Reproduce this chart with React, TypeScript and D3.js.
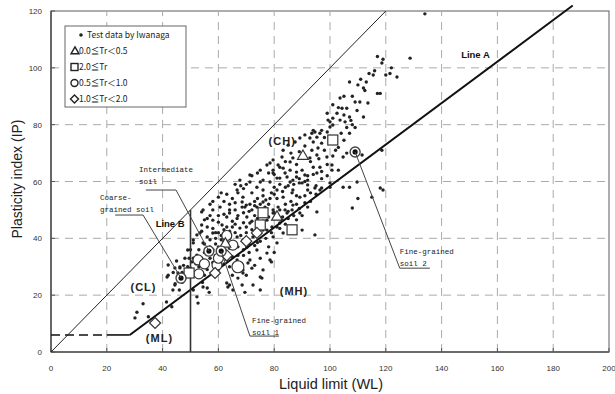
import React from 'react';
import * as d3 from 'd3';

const W = 615;
const H = 394;

const xTicks = [0, 20, 40, 60, 80, 100, 120, 140, 160, 180, 200];
const yTicks = [0, 20, 40, 60, 80, 100, 120];

// [WL, IP] test data by Iwanaga
const testData: [number, number][] = [
  [30.8, 14], [30.1, 12], [33, 17], [34.9, 12.4], [41.4, 17.6], [43.3, 15.9], [42, 27], [44.5, 24], [46, 21.8],
  [47, 24.5], [51, 21.8], [52.7, 17.2], [54.3, 24.5], [56, 22.5], [56.7, 21], [64, 23.6], [65, 27], [68.5, 23.6],
  [69.5, 21], [72.4, 23.6], [75.6, 26], [63.4, 22.9], [68.8, 27.8], [76, 28.9], [79, 31.7], [70.6, 31.3], [75, 21.8],
  [52.3, 19.4], [43.7, 21.8], [44.4, 23.6], [54.5, 22.9], [63, 24.3], [65.2, 21.8],
  [103, 64], [107, 58], [109.7, 59.8], [118, 57.7], [110, 54], [115, 54.5], [108, 50.7], [111.5, 69.3], [118.6, 71],
  [100, 59.5], [97, 57.7], [95.3, 49.3], [89.2, 48.9], [94.6, 41.2], [119, 57],
  [118.6, 101.7], [114, 98], [115.5, 97.5], [120, 97.5], [121.5, 98], [124, 96.8], [110, 94], [113, 95], [112.5, 92],
  [117, 91], [103.6, 89.4], [110.7, 88], [109, 88], [113.6, 87.6], [109.7, 85], [106, 85.8], [105, 83.4], [99, 84],
  [102.5, 84], [107, 82.7], [99.3, 81.6], [101, 82.3], [103.6, 81.6], [105.4, 81], [107.5, 81.5], [101, 79.9],
  [100, 79.2], [94.6, 77.4], [96.4, 77], [93.5, 77], [99, 77.4], [95.3, 75.6], [92.8, 75.3], [94, 73.9], [97, 73.5],
  [100, 73.9], [95.7, 71.8], [93.5, 71], [95.3, 69.3], [98.9, 68.6], [104.7, 68.6], [106, 70], [100.7, 65.8],
  [96.4, 65], [92.8, 68.3], [86.7, 68.3], [85.7, 66.9], [82.8, 68.6], [81.4, 65.8], [83.2, 64.7], [85.7, 64], [88, 63.3],
  [91, 62.3], [94, 65], [78.5, 66.5], [79.6, 63], [82, 61.2], [84.6, 61.6], [86.7, 60.5], [89, 59.5], [92, 58.8],
  [94.6, 57.7], [96.4, 57], [100, 58], [104.7, 58], [100.7, 64], [95.3, 63], [94, 78],
  [128.7, 103.4], [134, 119], [112, 92.9], [118, 91], [105, 90], [104.3, 85.8], [112, 82.7], [97, 78],
  [66, 50], [70, 51.7], [68.8, 54.5], [72, 56], [73.8, 58], [71.3, 59.8], [75, 59.8], [76, 57], [78.5, 59.8], [81, 61.2],
  [79.6, 64], [82, 65], [83.9, 63], [85.7, 59.8], [88, 61.6], [90, 59.5], [86.7, 57], [81, 57], [83.2, 54.5], [78.5, 54],
  [76, 52.8], [73.8, 51], [79.6, 50], [83.9, 50], [86.7, 51.7], [83.2, 71], [85, 72.8], [87.5, 73.9], [89.2, 75.3],
  [91, 76.4], [100, 81], [79.6, 67.6], [77.4, 65.8], [75, 64], [71.3, 62.3], [67.7, 60.5], [66.7, 57], [86.4, 56],
  [89.2, 54.5], [92, 57], [81.4, 51], [84.6, 48.9], [77.4, 46.4], [79.2, 44], [82.8, 46.4], [76, 42.9], [90, 42.9],
  [54.5, 50], [60.6, 51], [64, 50], [68.5, 51], [71.3, 52], [73, 53], [63, 47.5], [66.7, 47], [70.2, 47.5], [58, 46.4],
  [56, 44], [61.3, 44.7], [65, 44], [67.7, 43.6], [71.3, 45.4], [53.4, 41.9], [58, 41.9], [63, 41.2], [66.7, 40.5],
  [51, 39.4], [54.5, 38.4], [63.4, 38.4], [68.8, 39.4], [72.4, 40.5], [75, 41.9], [77.4, 42.9], [49, 35.9], [52.3, 34.1],
  [63, 34.8], [70.2, 36.9], [73.8, 35.9], [50.5, 31.7], [56, 31.3], [66.7, 32.4], [71.3, 32.4], [46.2, 29.9],
  [52.3, 28.1], [68.8, 28.9], [75, 26.4], [78.5, 32.4], [77.4, 34.8], [81, 38.4], [79.6, 40.5], [83.2, 41.9],
  [82, 45.4], [85, 47], [86.4, 50], [79.6, 48.9], [76.7, 51], [41.6, 26.4], [44.4, 29.6], [45.5, 27.8], [54, 49.3],
  [54, 44.7], [58, 43.5], [60, 45.7], [64, 48.9], [68.5, 52.8], [69.5, 51], [56, 40.5], [52.3, 41.2], [51, 38.4],
  [42, 30.6], [43.8, 28], [46.2, 29.6], [48, 33], [50, 36], [53, 36], [55, 35], [57, 37], [59, 38], [61, 39.5], [57, 33],
  [59, 34], [61, 33], [62, 36], [64, 36.5], [60, 29], [62, 31], [64, 30], [58, 28], [55, 27], [53, 30], [50, 27], [48, 26],
  [47.5, 30.5], [49.5, 33], [45, 32], [60, 42], [62, 43], [64, 42.5], [66, 45], [69, 45.5], [70, 42], [72, 43], [74, 45],
  [73, 48], [75, 48.5], [77, 49], [62, 48.5], [60, 48], [57, 48], [56, 47], [58, 50], [62, 53], [65, 54], [67, 56],
  [69, 57.5], [70, 59], [64, 52], [66, 52.5], [72, 50], [74, 54], [76, 55], [80, 55.5], [78, 52], [80, 58], [82, 59],
  [84, 58], [60, 54.5], [57, 52], [55, 46.5], [54, 42.5], [59, 40], [65, 38], [67, 37], [69, 34], [71, 38], [74, 38.5],
  [75, 33], [72, 29.5], [70, 27], [67, 26], [73, 30.5], [78, 37], [80, 35], [82, 43.5], [84, 45], [86, 44], [88, 46.5],
  [90, 48], [92, 51], [93, 53], [88, 52], [91, 55], [95, 55.5], [97, 61], [99, 62], [92, 62], [90, 64], [88, 66], [84, 67],
  [86, 70], [89, 70.5], [91, 72.5], [93, 67], [98, 71], [102, 75], [104, 77], [106, 79], [108, 80], [102, 71], [103, 86],
  [101, 87], [108, 90], [111, 96], [116, 99], [107, 95], [119, 103], [117, 104], [122, 100],
  [47, 28], [49, 30], [51, 33], [52, 31], [54, 33], [56, 34.5], [58, 36], [60, 37], [62, 39], [64, 40], [66, 42],
  [68, 41], [70, 44], [72, 46], [74, 47], [76, 46], [78, 47.5], [80, 49], [82, 50], [84, 52], [86, 53], [88, 55],
  [50, 29.5], [53, 32.5], [55, 38], [57, 39.5], [59, 42], [61, 41], [63, 44], [65, 46], [67, 48], [69, 49], [71, 49.5],
  [73, 51.5], [75, 52], [77, 53.5], [79, 56], [81, 54], [83, 56.5], [85, 58.5], [87, 59], [89, 61], [91, 60],
  [56, 29], [58, 31.5], [61, 30.5], [63, 32.5], [65, 33.5], [67, 34], [69, 36], [71, 35], [73, 37.5], [75, 39], [77, 40],
  [79, 42], [81, 44], [83, 47.5], [85, 49.5], [87, 48], [89, 50.5], [91, 52.5], [93, 56], [95, 58.5], [97, 63.5],
  [99, 66], [101, 69], [103, 72], [105, 74.5], [107, 77], [109, 79], [98, 75.5], [96, 68], [94, 62.5], [92, 60.5],
  [58, 53], [61, 56], [63, 55.5], [66, 59], [68, 58.5], [72, 62], [74, 63], [76, 60.5], [78, 63], [80, 62.5],
];

// Tr groups
const trTriangle: [number, number][] = [[90.3, 68.9], [81, 47.5], [62.5, 38]]; // 0.0≦Tr<0.5
const trSquare: [number, number][] = [[101, 74.6], [76, 49], [86.4, 43], [49.5, 27.8], [75, 44.7]]; // 2.0≦Tr
const trCircle: [number, number][] = [[67, 30], [52.7, 32.4], [59.5, 30.6], [65.2, 37.6], [60, 33], [55, 31], [53, 27.5], [63, 41]]; // 0.5≦Tr<1.0
const trDiamond: [number, number][] = [[37.3, 10.2], [58.8, 27.8], [73.8, 41.9], [63, 34], [70, 39]]; // 1.0≦Tr<2.0
const highlighted: [number, number][] = [[56.6, 35.5], [61, 35.5], [46.6, 26], [109, 70.4]];

const legendItems = ['Test data by Iwanaga', '0.0≦Tr＜0.5', '2.0≦Tr', '0.5≦Tr＜1.0', '1.0≦Tr＜2.0'];

// annotations: text lines anchor, underline, leader target (data units)
const annotations = [
  { lines: ['Intermediate', 'soil'], at: [31.5, 64.4], ul: [34, 44.8, 57], target: [56.6, 35.5] },
  { lines: ['Coarse-', 'grained soil'], at: [17.6, 54.5], ul: [23, 33, 48.2], target: [46.6, 26] },
  { lines: ['Fine-grained', 'soil 1'], at: [72, 11.3], ul: [71.3, 81.7, 5.6], target: [61, 35.5], ulLeft: true },
  { lines: ['Fine-grained', 'soil 2'], at: [125, 35.6], ul: [125, 135.8, 29.5], target: [109, 70.4], ulLeft: true },
];

const zoneLabels = [
  { t: '(CH)', at: [78, 73] },
  { t: '(CL)', at: [28.5, 21.5] },
  { t: '(ML)', at: [34, 3.5] },
  { t: '(MH)', at: [82, 20] },
];

const App = () => {
  const x = d3.scaleLinear().domain([0, 200]).range([51, 609]);
  const y = d3.scaleLinear().domain([0, 120]).range([352, 11]);
  const line = d3.line<[number, number]>().x(d => x(d[0])).y(d => y(d[1]));
  const lineA = (wl: number) => 0.73 * (wl - 20);
  const wlA0 = 20 + 6 / 0.73;

  const mono = '"Liberation Mono", "DejaVu Sans Mono", monospace';
  const jp = '"Noto Sans CJK JP", "Noto Sans", sans-serif';
  const sans = '"Liberation Sans", Arial, sans-serif';

  const diamond = (cx: number, cy: number, r: number) =>
    `M${cx},${cy - r}L${cx + r},${cy}L${cx},${cy + r}L${cx - r},${cy}Z`;
  const tri = d3.symbol(d3.symbolTriangle, 50)();

  return (
    <svg width={W} height={H} style={{ position: 'absolute', left: 0, top: 0, background: '#fff' }}>
      {/* frame */}
      <rect x={x(0)} y={y(120)} width={x(200) - x(0)} height={y(0) - y(120)} fill="none" stroke="#777" strokeWidth={1.2} />
      {/* grid */}
      {xTicks.slice(1, -1).map(t => (
        <line key={'gx' + t} x1={x(t)} x2={x(t)} y1={y(0)} y2={y(120)} stroke="#aaa" strokeDasharray="8,6" />
      ))}
      {yTicks.slice(1, -1).map(t => (
        <line key={'gy' + t} x1={x(0)} x2={x(200)} y1={y(t)} y2={y(t)} stroke="#aaa" strokeDasharray="8,6" />
      ))}
      {/* axes */}
      <line x1={x(0)} x2={x(0)} y1={y(0)} y2={y(120)} stroke="#555" strokeWidth={1.6} />
      <line x1={x(0)} x2={x(200)} y1={y(0)} y2={y(0)} stroke="#555" strokeWidth={1.6} />
      {xTicks.map(t => (
        <g key={'xt' + t}>
          <line x1={x(t)} x2={x(t)} y1={y(0)} y2={y(0) - 4} stroke="#555" />
          <text x={x(t)} y={y(0) + 19} fontSize={8} fontFamily={sans} fill="#333" textAnchor="middle">{t}</text>
        </g>
      ))}
      {yTicks.map(t => (
        <g key={'yt' + t}>
          <line x1={x(0)} x2={x(0) + 4} y1={y(t)} y2={y(t)} stroke="#555" />
          <text x={42} y={y(t) + 3} fontSize={8} fontFamily={sans} fill="#333" textAnchor="end">{t}</text>
        </g>
      ))}
      <text x={331} y={389} fontSize={14.5} fontFamily={sans} fill="#222" textAnchor="middle">Liquid limit (WL)</text>
      <text transform="translate(22,179) rotate(-90)" fontSize={14} fontFamily={sans} fill="#222" textAnchor="middle">Plasticity index (IP)</text>

      {/* test data */}
      {testData.map((d, i) => (
        <circle key={'p' + i} cx={x(d[0])} cy={y(d[1])} r={1.7} fill="#222" />
      ))}

      {/* classification lines */}
      <path d={line([[0, 0], [120, 120]])!} stroke="#222" strokeWidth={1} fill="none" />
      <path d={line([[wlA0, 6], [187, lineA(187)]])!} stroke="#111" strokeWidth={2} fill="none" />
      <path d={line([[0, 6], [20, 6]])!} stroke="#111" strokeWidth={1.6} strokeDasharray="9,5" fill="none" />
      <path d={line([[20, 6], [wlA0, 6]])!} stroke="#111" strokeWidth={1.6} fill="none" />
      <path d={line([[50, 0], [50, 50]])!} stroke="#333" strokeWidth={1.6} fill="none" />

      {/* Tr markers */}
      {trCircle.map((d, i) => (
        <circle key={'c' + i} cx={x(d[0])} cy={y(d[1])} r={i === 0 ? 6 : 5} fill="#fff" stroke="#333" strokeWidth={1.2} />
      ))}
      {trSquare.map((d, i) => (
        <rect key={'s' + i} x={x(d[0]) - 5} y={y(d[1]) - 5} width={10} height={10} fill="#fff" stroke="#333" strokeWidth={1.2} />
      ))}
      {trDiamond.map((d, i) => (
        <path key={'d' + i} d={diamond(x(d[0]), y(d[1]), 5.5)} fill="#fff" stroke="#333" strokeWidth={1.2} />
      ))}
      {trTriangle.map((d, i) => (
        <path key={'t' + i} d={tri!} transform={`translate(${x(d[0])},${y(d[1])})`} fill="#fff" stroke="#333" strokeWidth={1.2} />
      ))}
      {highlighted.map((d, i) => (
        <g key={'h' + i}>
          <circle cx={x(d[0])} cy={y(d[1])} r={5} fill="#fff" stroke="#444" strokeWidth={1.4} />
          <circle cx={x(d[0])} cy={y(d[1])} r={2.6} fill="#111" />
        </g>
      ))}

      {/* annotations */}
      {annotations.map((a, i) => {
        const [ux0, ux1, uy] = a.ul;
        const sx = a.ulLeft ? x(ux0) : x(ux1);
        return (
          <g key={'a' + i}>
            {a.lines.map((l, j) => (
              <text key={j} x={x(a.at[0])} y={y(a.at[1]) + 3 + j * 12} fontSize={7.5} fontFamily={mono} fill="#222">{l}</text>
            ))}
            <line x1={x(ux0)} x2={x(ux1)} y1={y(uy)} y2={y(uy)} stroke="#444" strokeWidth={1} />
            <line x1={sx} y1={y(uy)} x2={x(a.target[0])} y2={y(a.target[1])} stroke="#444" strokeWidth={1} />
          </g>
        );
      })}

      {/* labels */}
      {zoneLabels.map(z => (
        <text key={z.t} x={x(z.at[0])} y={y(z.at[1])} fontSize={11} fontWeight="bold" fontFamily={sans} fill="#222" letterSpacing={1}>{z.t}</text>
      ))}
      <text x={x(37.5)} y={y(44)} fontSize={9.5} fontWeight="bold" fontFamily={sans} fill="#111">Line B</text>
      <text x={x(147)} y={y(103.5)} fontSize={9.5} fontWeight="bold" fontFamily={sans} fill="#111">Line A</text>

      {/* legend */}
      <rect x={65} y={26} width={121} height={81} fill="#fff" stroke="#666" strokeWidth={1} />
      {legendItems.map((l, i) => {
        const cy = 35 + i * 16;
        return (
          <g key={'l' + i}>
            {i === 0 && <circle cx={81} cy={cy} r={1.8} fill="#222" />}
            {i === 1 && <path d={d3.symbol(d3.symbolTriangle, 28)()!} transform={`translate(75,${cy + 0.5})`} fill="#fff" stroke="#222" strokeWidth={1.4} />}
            {i === 2 && <rect x={71} y={cy - 3.5} width={7} height={7} fill="#fff" stroke="#222" strokeWidth={1.4} />}
            {i === 3 && <circle cx={74.5} cy={cy} r={3.5} fill="#fff" stroke="#222" strokeWidth={1.4} />}
            {i === 4 && <path d={diamond(74.5, cy, 4)} fill="#fff" stroke="#222" strokeWidth={1.4} />}
            <text x={i === 0 ? 87 : 79} y={cy + 3} fontSize={8.5} fontFamily={jp} fill="#222">{l}</text>
          </g>
        );
      })}
    </svg>
  );
};

export default App;
